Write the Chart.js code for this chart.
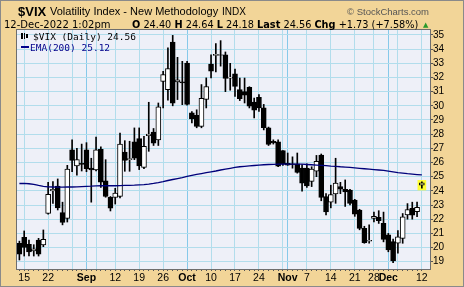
<!DOCTYPE html>
<html><head><meta charset="utf-8">
<script src="https://cdn.jsdelivr.net/npm/chart.js@4.4.1/dist/chart.umd.min.js"></script>
<style>
html,body{margin:0;padding:0;background:#F2D598;}
#wrap{position:relative;width:464px;height:287px;overflow:hidden;}
canvas{position:absolute;left:0;top:0;}
.t{position:absolute;white-space:nowrap;line-height:1;color:#000;}
.b{font-weight:bold;}
</style></head><body>
<div id="wrap">
<canvas id="c" width="464" height="287"></canvas>
<div class="t" style="left:18px;top:4px;font:bold 13px 'Liberation Sans';">$VIX</div>
<div class="t" style="left:50px;top:5.4px;font:11px 'Liberation Sans';">Volatility Index - New Methodology</div>
<div class="t" style="left:222px;top:6.2px;font:10px 'Liberation Sans';">INDX</div>
<div class="t" style="right:35px;top:5.6px;font:9.5px 'Liberation Sans';color:#555;">© StockCharts.com</div>
<div class="t" style="left:4px;top:18.8px;font:10px 'DejaVu Sans';">12-Dec-2022 1:02pm</div>
<div class="t" style="left:132px;top:19.1px;font:9.75px 'DejaVu Sans';"><span class="b">O</span> 24.40 <span class="b">H</span> 24.64 <span class="b">L</span> 24.18 <span class="b">Last</span> 24.56 <span class="b">Chg</span> +1.73 (+7.58%)</div>
<div class="t" style="left:423px;top:21px;font:7px 'DejaVu Sans';color:#2a9a2a;">▲</div>
<div class="t" style="left:33px;top:31.3px;font:9.5px 'DejaVu Sans Mono';">$VIX (Daily) 24.56</div>
<div class="t" style="left:30px;top:42px;font:9.5px 'DejaVu Sans Mono';color:#00008B;">EMA(200) 25.12</div>
<div style="position:absolute;left:21px;top:46px;width:8px;height:2px;background:#00008B;"></div>
<div style="position:absolute;left:21px;top:33px;width:2px;height:6px;background:#000;"></div>
<div style="position:absolute;left:24px;top:33px;width:1px;height:6px;background:#000;"></div>
<div style="position:absolute;left:26px;top:34px;width:2px;height:4px;background:#000;"></div>
</div>
<script>
// ---- data (VIX daily, 12-Aug-2022 .. 12-Dec-2022) ----
const dates = ['08-12','08-15','08-16','08-17','08-18','08-19','08-22','08-23','08-24','08-25',
'08-26','08-29','08-30','08-31','09-01','09-02','09-06','09-07','09-08','09-09',
'09-12','09-13','09-14','09-15','09-16','09-19','09-20','09-21','09-22','09-23',
'09-26','09-27','09-28','09-29','09-30','10-03','10-04','10-05','10-06','10-07',
'10-10','10-11','10-12','10-13','10-14','10-17','10-18','10-19','10-20','10-21',
'10-24','10-25','10-26','10-27','10-28','10-31','11-01','11-02','11-03','11-04',
'11-07','11-08','11-09','11-10','11-11','11-14','11-15','11-16','11-17','11-18',
'11-21','11-22','11-23','11-25','11-28','11-29','11-30','12-01','12-02','12-05',
'12-06','12-07','12-08','12-09','12-12'];
const opens = [20.30,20.72,20.23,19.76,20.53,20.18,22.41,24.00,24.34,22.46,
22.06,26.90,25.76,25.95,26.90,25.60,25.47,26.93,24.70,23.54,
23.54,23.61,26.74,26.20,27.45,27.68,25.66,27.90,28.15,27.60,
31.73,31.14,34.50,31.68,31.70,33.02,29.50,29.33,28.55,30.45,
32.95,33.55,33.60,33.60,31.95,32.25,31.14,31.00,31.30,30.27,
30.60,29.85,28.44,27.50,27.45,26.85,25.95,25.90,25.90,25.61,
25.61,24.67,25.38,26.53,23.60,23.20,23.78,24.30,24.10,24.06,
23.35,22.65,21.36,20.45,22.05,22.13,21.71,20.89,20.42,20.30,
20.65,22.30,22.77,22.53,24.40];
const highs = [20.45,21.17,20.53,20.20,20.65,21.24,24.60,24.65,24.84,23.20,
25.80,27.60,27.00,27.30,27.40,26.30,27.80,27.10,26.20,23.60,
24.18,28.08,27.54,27.50,28.44,28.44,27.85,30.25,28.40,30.20,
32.44,34.10,34.97,33.42,33.14,33.14,29.60,29.72,31.50,31.97,
33.60,34.40,34.60,33.80,33.00,32.60,31.96,31.96,31.35,30.55,
30.80,30.10,28.50,27.60,27.60,26.85,26.67,26.40,26.67,25.85,
25.90,25.70,26.50,26.60,23.80,24.40,26.30,24.60,24.77,24.10,
23.40,22.70,21.50,21.60,22.50,22.60,22.50,21.00,20.60,21.20,
22.40,23.10,23.20,23.20,24.64];
const lows = [19.12,19.40,19.40,19.40,19.40,20.06,22.35,23.12,22.65,21.60,
21.80,25.36,25.10,25.40,25.35,23.20,25.40,24.25,23.55,22.58,
23.07,23.50,25.38,25.38,26.20,25.50,25.57,26.79,27.20,27.20,
29.85,30.40,30.00,30.44,30.08,30.04,28.80,28.45,28.45,29.85,
31.97,32.40,32.80,31.00,31.10,30.67,30.37,30.20,29.85,29.14,
29.60,28.30,27.20,27.30,25.70,25.80,25.80,25.60,25.25,23.97,
24.25,24.30,25.00,23.30,22.30,22.80,23.12,23.80,22.90,23.00,
22.20,21.25,20.30,20.30,21.80,21.70,20.40,19.70,18.93,19.60,
20.30,22.00,22.00,22.18,24.18];
const closes = [19.53,20.00,19.69,19.90,19.54,20.58,23.76,24.11,22.80,21.78,
25.54,26.15,26.20,25.87,25.56,25.47,26.90,24.62,23.60,22.78,
23.85,27.30,26.15,26.28,26.30,25.76,27.15,28.00,27.37,29.92,
32.20,32.62,30.18,31.84,31.62,30.10,29.07,28.55,30.52,31.36,
32.45,33.63,33.57,31.94,32.02,31.37,30.50,30.76,29.98,29.69,
29.85,28.46,27.28,27.39,25.75,25.88,25.81,25.86,25.30,24.55,
24.35,25.54,26.09,23.53,22.52,23.73,24.54,24.11,23.93,23.12,
22.36,21.35,20.35,20.50,22.21,21.89,20.58,19.84,19.06,20.75,
22.17,22.68,22.29,22.83,24.56];
const ema200 = [24.52,24.52,24.50,24.45,24.38,24.32,24.28,24.27,24.26,24.26,
24.27,24.27,24.28,24.30,24.32,24.33,24.35,24.36,24.36,24.36,
24.36,24.37,24.38,24.39,24.40,24.42,24.44,24.47,24.52,24.58,
24.65,24.73,24.80,24.87,24.94,25.02,25.09,25.16,25.22,25.28,
25.34,25.40,25.47,25.53,25.59,25.65,25.70,25.73,25.76,25.79,
25.82,25.84,25.86,25.87,25.88,25.89,25.89,25.89,25.89,25.88,
25.86,25.84,25.82,25.80,25.78,25.75,25.73,25.70,25.68,25.65,
25.62,25.59,25.56,25.53,25.50,25.47,25.44,25.39,25.34,25.29,
25.25,25.21,25.18,25.15,25.12];
// axis ticks
const yTicks = [19,20,21,22,23,24,25,26,27,28,29,30,31,32,33,34,35];
const xLabelIdx = [1,6,14,20,25,30,35,40,45,50,56,60,65,70,74,77,84];
const xLabelText = ['15','22','Sep','12','19','26','Oct','10','17','24','Nov','7','14','21','28','Dec','12'];
const monthIdx = [14,35,56,77];
const weekIdx = [1,6,11,16,20,25,30,35,40,45,50,55,60,65,70,74,79,84];

const last = opens.length - 1;
const labelMap = {}; xLabelIdx.forEach((v,k)=>labelMap[v]=xLabelText[k]);
const monthSet = new Set(monthIdx), weekSet = new Set(weekIdx);
const monthNames = new Set(['Sep','Oct','Nov','Dec']);

const bg = {
  id:'bg',
  beforeDraw(ch){
    const c = ch.ctx, a = ch.chartArea;
    c.save();
    c.fillStyle = '#F2D598'; c.fillRect(0,0,ch.width,ch.height);
    c.fillStyle = '#EEF0F8'; c.fillRect(a.left,a.top,a.right-a.left,a.bottom-a.top);
    c.restore();
  },
  afterDraw(ch){
    const c = ch.ctx, a = ch.chartArea;
    c.save();
    c.strokeStyle = '#6E6E6E'; c.lineWidth = 1;
    c.strokeRect(a.left-0.5, a.top-0.5, a.right-a.left+1, a.bottom-a.top+1);
    c.strokeStyle = '#8A8A8A';
    c.strokeRect(0.5,0.5,ch.width-1,ch.height-1);
    c.restore();
  }
};

new Chart(document.getElementById('c'), {
  type:'bar',
  data:{datasets:[
    {type:'line', data: ema200.map((v,i)=>({x:i,y:v})), borderColor:'#00007A', borderWidth:1.3, pointRadius:0, order:0},
    {data: opens.map((o,i)=>({x:i,y:[o,closes[i]]})),
     backgroundColor: c => { const i=c.dataIndex; return i===last ? '#FFFF99' : (closes[i]>=opens[i] ? '#FFFFFF' : '#000000'); },
     borderColor:'#000', borderWidth:1, borderSkipped:false, barThickness:5, grouped:false, order:1},
    {data: highs.map((h,i)=>({x:i,y:[lows[i],h]})), backgroundColor:'#000', borderWidth:0, barThickness:1, grouped:false, order:2},
    {data: [{x:last, y:[lows[last]-0.12, highs[last]+0.1]}], backgroundColor:'#FFFF33', barThickness:8, grouped:false, order:3}
  ]},
  options:{
    responsive:false, animation:false, devicePixelRatio:1,
    layout:{padding:{left:17, top:30, right:0, bottom:0}},
    plugins:{legend:{display:false}, tooltip:{enabled:false}},
    scales:{
      x:{type:'linear', min:-0.5, max:85.7, offset:false,
         grid:{offset:false, lineWidth:1,
           color: c => monthSet.has(c.tick && c.tick.value) ? '#86C9EA' : (weekSet.has(c.tick && c.tick.value) ? '#B2DDEC' : 'rgba(0,0,0,0)'),
           tickColor:'#555', tickLength:2},
         border:{display:false},
         ticks:{autoSkip:false, maxRotation:0, padding:1, color:'#000',
           callback: v => labelMap[v] || '',
           font: c => ({family:'Liberation Sans', size:10.5, weight: (c.tick && monthNames.has(labelMap[c.tick.value])) ? 'bold' : 'normal'})},
         afterBuildTicks: s => { s.ticks = dates.map((d,i)=>({value:i})); },
         afterFit: s => { s.height = 18; }
      },
      y:{type:'linear', position:'right', min:18.485, max:35.35,
         grid:{color:'#B2DDEC', tickColor:'#555', tickLength:3},
         border:{display:false},
         ticks:{autoSkip:false, padding:0, color:'#000', font:{family:'Liberation Sans', size:10}},
         afterBuildTicks: s => { s.ticks = yTicks.map(v=>({value:v})); },
         afterFit: s => { s.width = 34; }
      }
    }
  },
  plugins:[bg]
});
</script>
</body></html>
